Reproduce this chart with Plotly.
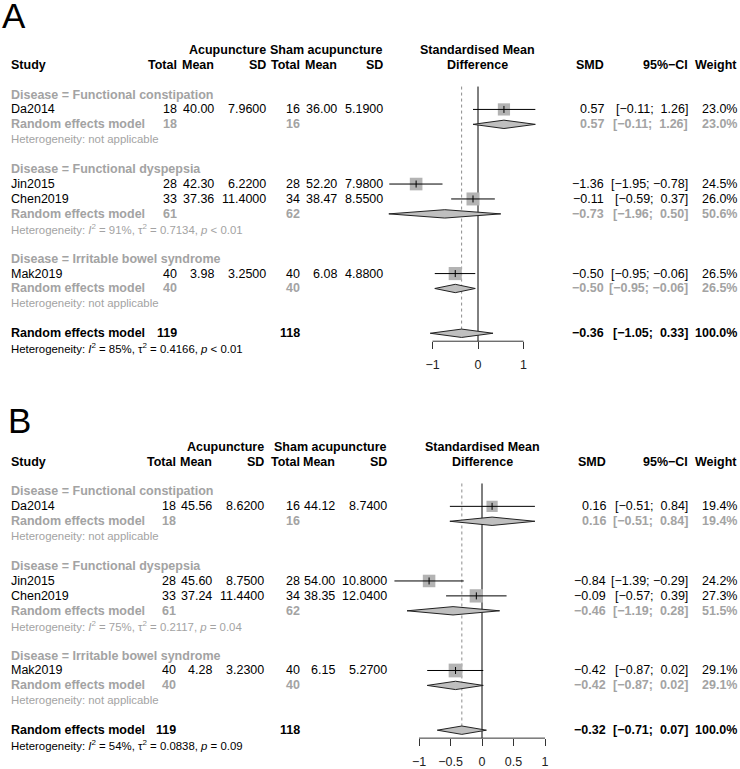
import plotly.graph_objects as go

W, H = 740, 769

# ---------------- data ----------------
groups = ["Functional constipation", "Functional dyspepsia", "Irritable bowel syndrome"]
studies = ["Da2014", "Jin2015", "Chen2019", "Mak2019"]
study_group = [0, 1, 1, 2]

# Panel A
a_n_acu = [18, 28, 33, 40]
a_mean_acu = [40.00, 42.30, 37.36, 3.98]
a_sd_acu = [7.96, 6.22, 11.40, 3.25]
a_n_sham = [16, 28, 34, 40]
a_mean_sham = [36.00, 52.20, 38.47, 6.08]
a_sd_sham = [5.19, 7.98, 8.55, 4.88]
a_smd = [0.57, -1.36, -0.11, -0.50]
a_lo = [-0.11, -1.95, -0.59, -0.95]
a_hi = [1.26, -0.78, 0.37, -0.06]
a_w = [23.0, 24.5, 26.0, 26.5]
a_sub_n_acu = [18, 61, 40]
a_sub_n_sham = [16, 62, 40]
a_sub_smd = [0.57, -0.73, -0.50]
a_sub_lo = [-0.11, -1.96, -0.95]
a_sub_hi = [1.26, 0.50, -0.06]
a_sub_w = [23.0, 50.6, 26.5]
a_sub_i2 = [None, 91, None]
a_sub_tau2 = [None, 0.7134, None]
a_sub_p = [None, "&lt; 0.01", None]
a_tot_n = [119, 118]
a_all = [-0.36, -1.05, 0.33]
a_all_w = 100.0
a_all_het = [85, 0.4166, "&lt; 0.01"]
a_ticks = [-1, 0, 1]

# Panel B
b_n_acu = [18, 28, 33, 40]
b_mean_acu = [45.56, 45.60, 37.24, 4.28]
b_sd_acu = [8.62, 8.75, 11.44, 3.23]
b_n_sham = [16, 28, 34, 40]
b_mean_sham = [44.12, 54.00, 38.35, 6.15]
b_sd_sham = [8.74, 10.80, 12.04, 5.27]
b_smd = [0.16, -0.84, -0.09, -0.42]
b_lo = [-0.51, -1.39, -0.57, -0.87]
b_hi = [0.84, -0.29, 0.39, 0.02]
b_w = [19.4, 24.2, 27.3, 29.1]
b_sub_n_acu = [18, 61, 40]
b_sub_n_sham = [16, 62, 40]
b_sub_smd = [0.16, -0.46, -0.42]
b_sub_lo = [-0.51, -1.19, -0.87]
b_sub_hi = [0.84, 0.28, 0.02]
b_sub_w = [19.4, 51.5, 29.1]
b_sub_i2 = [None, 75, None]
b_sub_tau2 = [None, 0.2117, None]
b_sub_p = [None, "= 0.04", None]
b_tot_n = [119, 118]
b_all = [-0.32, -0.71, 0.07]
b_all_w = 100.0
b_all_het = [54, 0.0838, "= 0.09"]
b_ticks = [-1, -0.5, 0, 0.5, 1]

# ---------------- styling ----------------
FONT = "Liberation Sans, Arial, sans-serif"
FS = 12.5
FS_HET = 11.4
GRAY_TXT = "#a3a3a3"
SQ_COL = "#b3b3b3"
DIA_COL = "#bfbfbf"
NB = "\u00a0"

def fnum(v, d=2):
    s = f"{v:.{d}f}"
    return s.replace("-", "\u2212")

def fci(lo, hi):
    l = fnum(lo).rjust(5, NB)
    h = fnum(hi).rjust(5, NB)
    return f"[{l};{NB}{h}]"

def het_text(i2, tau2, p):
    return (f"Heterogeneity: <i>I</i><sup>2</sup> = {i2}%, "
            f"\u03c4<sup>2</sup> = {tau2:.4f}, <i>p</i> {p}")

fig = go.Figure()
annotations = []

def txt(s, xpx, row, yref, anchor="right", color="black", size=FS, bold=False):
    if bold:
        s = f"<b>{s}</b>"
    annotations.append(dict(
        text=s, x=xpx / W, xref="paper", y=row, yref=yref,
        xanchor=anchor, yanchor="middle", showarrow=False, borderpad=0,
        font=dict(family=FONT, size=size, color=color)))

panels = [
    dict(letter="A", xa="x", ya="y", yref="y", top_px=0, bot_px=384, row0_px=95,
         zero_px=478, unit_px=45.5, letter_x=1, letter_row=-5.3,
         cols=[178, 215, 267, 301, 338, 384, 605, 689, 738],
         n_acu=a_n_acu, mean_acu=a_mean_acu, sd_acu=a_sd_acu,
         n_sham=a_n_sham, mean_sham=a_mean_sham, sd_sham=a_sd_sham,
         smd=a_smd, lo=a_lo, hi=a_hi, w=a_w,
         sub_n_acu=a_sub_n_acu, sub_n_sham=a_sub_n_sham, sub_smd=a_sub_smd,
         sub_lo=a_sub_lo, sub_hi=a_sub_hi, sub_w=a_sub_w,
         sub_i2=a_sub_i2, sub_tau2=a_sub_tau2, sub_p=a_sub_p,
         tot_n=a_tot_n, all=a_all, all_w=a_all_w, all_het=a_all_het, ticks=a_ticks),
    dict(letter="B", xa="x2", ya="y2", yref="y2", top_px=384, bot_px=769, row0_px=494,
         zero_px=482, unit_px=63.0, letter_x=7, letter_row=-4.77,
         cols=[177, 213, 265, 301, 336, 388, 607, 689, 738],
         n_acu=b_n_acu, mean_acu=b_mean_acu, sd_acu=b_sd_acu,
         n_sham=b_n_sham, mean_sham=b_mean_sham, sd_sham=b_sd_sham,
         smd=b_smd, lo=b_lo, hi=b_hi, w=b_w,
         sub_n_acu=b_sub_n_acu, sub_n_sham=b_sub_n_sham, sub_smd=b_sub_smd,
         sub_lo=b_sub_lo, sub_hi=b_sub_hi, sub_w=b_sub_w,
         sub_i2=b_sub_i2, sub_tau2=b_sub_tau2, sub_p=b_sub_p,
         tot_n=b_tot_n, all=b_all, all_w=b_all_w, all_het=b_all_het, ticks=b_ticks),
]

ROW_PX = 15.0
DOM_L, DOM_R = 370, 560
DIA_H = 0.28
AXIS_ROW = 16.533
TOP_ROW = -0.533

layout_axes = {}
for pi, P in enumerate(panels):
    yref = P["yref"]
    xa, ya = P["xa"], P["ya"]
    c = P["cols"]
    ax_suffix = "" if pi == 0 else str(pi + 1)
    # axes
    xr = [(DOM_L - P["zero_px"]) / P["unit_px"], (DOM_R - P["zero_px"]) / P["unit_px"]]
    yr = [(P["bot_px"] - P["row0_px"]) / ROW_PX, (P["top_px"] - P["row0_px"]) / ROW_PX]
    axis_px = P["row0_px"] + AXIS_ROW * ROW_PX
    layout_axes["xaxis" + ax_suffix] = dict(
        domain=[DOM_L / W, DOM_R / W], range=xr, anchor="free",
        position=1 - axis_px / H, showgrid=False, zeroline=False, showline=False,
        ticks="outside", ticklen=7, tickwidth=1, tickcolor="#333333",
        ticklabelstandoff=5,
        tickvals=P["ticks"], tickfont=dict(family=FONT, size=FS, color="#222222"),
        fixedrange=True)
    layout_axes["yaxis" + ax_suffix] = dict(
        domain=[1 - P["bot_px"] / H, 1 - P["top_px"] / H], range=yr, visible=False,
        fixedrange=True)

    # letter
    txt(P["letter"], P["letter_x"], P["letter_row"], yref, anchor="left", size=35)
    # headers
    txt("Acupuncture", c[2], -3, yref, bold=True)
    txt("Sham acupuncture", c[5], -3, yref, bold=True)
    txt("Study", 10, -2, yref, anchor="left", bold=True)
    for j, lab in enumerate(["Total", "Mean", "SD", "Total", "Mean", "SD"]):
        txt(lab, c[j], -2, yref, bold=True)
    txt("Standardised Mean", P["zero_px"], -3, yref, anchor="center", bold=True)
    txt("Difference", P["zero_px"], -2, yref, anchor="center", bold=True)
    txt("SMD", c[6], -2, yref, bold=True)
    txt("95%\u2212CI", c[7], -2, yref, bold=True)
    txt("Weight", c[8], -2, yref, bold=True)

    # reference lines
    est_all = P["all"][0]
    fig.add_trace(go.Scatter(x=[est_all, est_all], y=[TOP_ROW, 16 - DIA_H], mode="lines",
                             line=dict(color="#8c8c8c", width=1, dash="dot"),
                             xaxis=xa, yaxis=ya, hoverinfo="skip", showlegend=False))
    fig.add_trace(go.Scatter(x=[0, 0], y=[TOP_ROW, AXIS_ROW], mode="lines",
                             line=dict(color="black", width=1),
                             xaxis=xa, yaxis=ya, hoverinfo="skip", showlegend=False))
    fig.add_trace(go.Scatter(x=[P["ticks"][0], P["ticks"][-1]], y=[AXIS_ROW, AXIS_ROW],
                             mode="lines", line=dict(color="#333333", width=1),
                             xaxis=xa, yaxis=ya, hoverinfo="skip", showlegend=False))

    def diamond(est, lo, hi, row, outline="#222222"):
        fig.add_trace(go.Scatter(
            x=[lo, est, hi, est, lo], y=[row, row - DIA_H, row, row + DIA_H, row],
            mode="lines", fill="toself", fillcolor=DIA_COL,
            line=dict(color=outline, width=1), xaxis=xa, yaxis=ya,
            hoverinfo="skip", showlegend=False))

    row = 0
    for g, gname in enumerate(groups):
        txt(f"Disease = {gname}", 10, row, yref, anchor="left", color=GRAY_TXT, bold=True)
        row += 1
        for i, s in enumerate(studies):
            if study_group[i] != g:
                continue
            txt(s, 10, row, yref, anchor="left")
            vals = [str(P["n_acu"][i]), fnum(P["mean_acu"][i]), fnum(P["sd_acu"][i], 4),
                    str(P["n_sham"][i]), fnum(P["mean_sham"][i]), fnum(P["sd_sham"][i], 4),
                    fnum(P["smd"][i]), fci(P["lo"][i], P["hi"][i]), f"{P['w'][i]:.1f}%"]
            for j, v in enumerate(vals):
                txt(v, c[j], row, yref)
            # square
            fig.add_trace(go.Scatter(
                x=[P["smd"][i]], y=[row], mode="markers",
                marker=dict(symbol="square", size=2.55 * P["w"][i] ** 0.5, color=SQ_COL,
                            line=dict(width=0)),
                xaxis=xa, yaxis=ya, hoverinfo="skip", showlegend=False))
            # CI line
            fig.add_trace(go.Scatter(
                x=[P["lo"][i], P["hi"][i]], y=[row, row], mode="lines",
                line=dict(color="black", width=1), xaxis=xa, yaxis=ya,
                hoverinfo="skip", showlegend=False))
            fig.add_trace(go.Scatter(
                x=[P["smd"][i]], y=[row], mode="markers",
                marker=dict(symbol="line-ns", size=5, line=dict(color="black", width=1)),
                xaxis=xa, yaxis=ya, hoverinfo="skip", showlegend=False))
            row += 1
        # subgroup random effects
        txt("Random effects model", 10, row, yref, anchor="left", color=GRAY_TXT, bold=True)
        txt(str(P["sub_n_acu"][g]), c[0], row, yref, color=GRAY_TXT, bold=True)
        txt(str(P["sub_n_sham"][g]), c[3], row, yref, color=GRAY_TXT, bold=True)
        txt(fnum(P["sub_smd"][g]), c[6], row, yref, color=GRAY_TXT, bold=True)
        txt(fci(P["sub_lo"][g], P["sub_hi"][g]), c[7], row, yref, color=GRAY_TXT, bold=True)
        txt(f"{P['sub_w'][g]:.1f}%", c[8], row, yref, color=GRAY_TXT, bold=True)
        diamond(P["sub_smd"][g], P["sub_lo"][g], P["sub_hi"][g], row)
        row += 1
        if P["sub_i2"][g] is None:
            htxt = "Heterogeneity: not applicable"
        else:
            htxt = het_text(P["sub_i2"][g], P["sub_tau2"][g], P["sub_p"][g])
        txt(htxt, 10, row, yref, anchor="left", color=GRAY_TXT, size=FS_HET)
        row += 2

    # overall
    txt("Random effects model", 10, row, yref, anchor="left", bold=True)
    txt(str(P["tot_n"][0]), c[0], row, yref, bold=True)
    txt(str(P["tot_n"][1]), c[3], row, yref, bold=True)
    txt(fnum(P["all"][0]), c[6], row, yref, bold=True)
    txt(fci(P["all"][1], P["all"][2]), c[7], row, yref, bold=True)
    txt(f"{P['all_w']:.1f}%", c[8], row, yref, bold=True)
    diamond(P["all"][0], P["all"][1], P["all"][2], row)
    row += 1
    h = P["all_het"]
    txt(het_text(h[0], h[1], h[2]), 10, row, yref, anchor="left", size=FS_HET)

fig.update_layout(
    width=W, height=H, margin=dict(l=0, r=0, t=0, b=0),
    paper_bgcolor="white", plot_bgcolor="rgba(0,0,0,0)",
    showlegend=False, annotations=annotations,
    font=dict(family=FONT, size=FS, color="black"),
    **layout_axes)

fig.write_html("out.html", config={"displayModeBar": False, "staticPlot": True},
               post_script="document.body.style.margin='0px';"
               "document.body.style.overflow='hidden';")
